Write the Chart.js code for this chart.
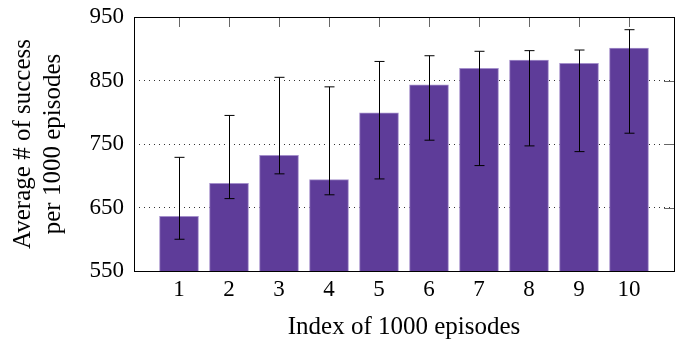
<!DOCTYPE html>
<html>
<head>
<meta charset="utf-8">
<script src="https://cdn.jsdelivr.net/npm/chart.js@4"></script>
<style>
  html, body { margin: 0; padding: 0; background: #fff; }
  #wrap { width: 678px; height: 341px; }
</style>
</head>
<body>
<div id="wrap"><canvas id="chart"></canvas></div>
<script>
// episode index and average successes (with min/max whiskers)
const episodes = [1, 2, 3, 4, 5, 6, 7, 8, 9, 10];
const avgSuccess = [636, 688, 732, 694, 799, 843, 869, 882, 877, 901];
const errLow = [600, 664, 703, 670, 695, 756, 716, 747, 738, 767];
const errHigh = [729, 795, 855, 840, 880, 889, 896, 897, 898, 930];
const yTicks = [550, 650, 750, 850, 950];

const serif = '"Liberation Serif", "DejaVu Serif", serif';

// error bars + frame + inward ticks on top / right
const extras = {
  id: 'extras',
  afterDatasetsDraw(chart) {
    const { ctx, chartArea: a, scales: { x, y } } = chart;
    ctx.save();
    ctx.strokeStyle = '#000';
    ctx.lineWidth = 1;
    episodes.forEach((e, i) => {
      const px = Math.round(x.getPixelForValue(e)) + 0.5;
      const lo = y.getPixelForValue(errLow[i]);
      const hi = y.getPixelForValue(errHigh[i]);
      ctx.beginPath();
      ctx.moveTo(px, lo); ctx.lineTo(px, hi);
      ctx.moveTo(px - 5, lo); ctx.lineTo(px + 5, lo);
      ctx.moveTo(px - 5, hi); ctx.lineTo(px + 5, hi);
      ctx.stroke();
    });
    // ticks pointing in from the top and the right
    ctx.strokeStyle = '#666';
    episodes.forEach(e => {
      const px = Math.round(x.getPixelForValue(e)) + 0.5;
      ctx.beginPath(); ctx.moveTo(px, a.top); ctx.lineTo(px, a.top + 10); ctx.stroke();
    });
    yTicks.forEach(v => {
      const py = Math.round(y.getPixelForValue(v)) + 0.5;
      ctx.beginPath(); ctx.moveTo(a.right, py); ctx.lineTo(a.right - 10, py); ctx.stroke();
    });
    ctx.strokeStyle = '#000';
    ctx.strokeRect(Math.round(a.left) + 0.5, Math.round(a.top) + 0.5,
      Math.round(a.right - a.left), Math.round(a.bottom - a.top));
    ctx.restore();
  }
};

new Chart(document.getElementById('chart'), {
  type: 'bar',
  data: {
    labels: episodes,
    datasets: [{
      data: episodes.map((e, i) => ({ x: e, y: avgSuccess[i] })),
      backgroundColor: '#5e3c99',
      borderColor: '#a48fcb',
      borderWidth: 1,
      barThickness: 39
    }]
  },
  options: {
    responsive: true,
    maintainAspectRatio: false,
    animation: false,
    layout: { padding: { top: 17, right: 4, left: 0, bottom: 0 } },
    plugins: { legend: { display: false }, tooltip: { enabled: false } },
    scales: {
      x: {
        type: 'linear',
        offset: false,
        min: 0.1,
        max: 10.9,
        afterBuildTicks: s => { s.ticks = episodes.map(v => ({ value: v })); },
        afterFit: s => { s.height = 70; s.paddingLeft = 0; s.paddingRight = 0; },
        grid: { display: false, drawTicks: false },
        border: { display: false },
        ticks: { color: '#000', font: { family: serif, size: 23 }, padding: 5, maxRotation: 0 },
        title: {
          display: true,
          text: 'Index of 1000 episodes',
          color: '#000',
          font: { family: serif, size: 25, lineHeight: 1.1 },
          padding: { top: 0, bottom: 0 }
        }
      },
      y: {
        min: 550,
        max: 950,
        afterBuildTicks: s => { s.ticks = yTicks.map(v => ({ value: v })); },
        afterFit: s => { s.width = 134; s.paddingTop = 0; s.paddingBottom = 0; },
        grid: { color: '#333', drawTicks: false },
        border: { display: false, dash: [1, 4] },
        ticks: { color: '#000', font: { family: serif, size: 23 }, padding: 10 },
        title: {
          display: true,
          text: ['Average # of success', 'per 1000 episodes'],
          color: '#000',
          font: { family: serif, size: 25, lineHeight: 1.2 },
          padding: { top: 8, bottom: 0 }
        }
      }
    }
  },
  plugins: [extras]
});
</script>
</body>
</html>
